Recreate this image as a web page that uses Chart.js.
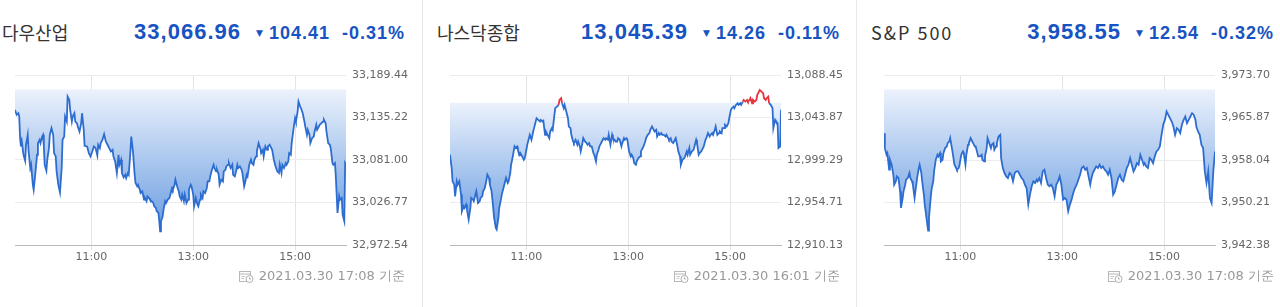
<!DOCTYPE html>
<html><head><meta charset="utf-8">
<script src="https://cdn.jsdelivr.net/npm/chart.js@4.4.1/dist/chart.umd.min.js"></script>
<style>
html,body{margin:0;padding:0;background:#fff;}
body{width:1280px;height:307px;overflow:hidden;position:relative;}
.panel{position:absolute;top:0;width:434px;height:307px;}
.panel::before{content:"";position:absolute;left:0;top:0;bottom:0;width:1px;background:#e8e8e8;}
.title{position:absolute;left:15px;top:22px;font:18px/20px "Noto Sans CJK KR",sans-serif;color:#333;white-space:nowrap;}
.quote{position:absolute;right:16px;top:21px;display:flex;align-items:baseline;line-height:22px;color:#1753c2;font-family:"Liberation Sans",Arial,sans-serif;font-weight:bold;white-space:nowrap;}
.price{font-size:22px;letter-spacing:1px;margin-right:15px;}
.arr{font:9px "DejaVu Sans",sans-serif;position:relative;top:-3px;margin-right:6px;}
.chg{font-size:18px;letter-spacing:1px;margin-right:12px;}
.pct{font-size:18px;letter-spacing:1px;}
canvas{position:absolute;left:28px;top:60px;}
.stamp{position:absolute;right:16px;top:268px;display:flex;align-items:center;font:13px/16px "DejaVu Sans",sans-serif;color:#999;white-space:nowrap;}
.stamp svg{margin-right:5px;}
</style></head>
<body>
<script>
// ---------- data ----------
const indexNames = ['다우산업', '나스닥종합', 'S&P 500'];
const lastPrices = ['33,066.96', '13,045.39', '3,958.55'];
const changes = ['104.41', '14.26', '12.54'];
const changePercents = ['-0.31%', '-0.11%', '-0.32%'];
const prevCloses = [33171.37, 13059.65, 3971.09];
const stampTexts = ['2021.03.30 17:08 기준', '2021.03.30 16:01 기준', '2021.03.30 17:08 기준'];

// x axis: minutes after 09:30 open
const xTickMinutes = [90, 210, 330];
const xTickLabels = ['11:00', '13:00', '15:00'];

const dowTickLabels = ['32,972.54', '33,026.77', '33,081.00', '33,135.22', '33,189.44'];
const nasdaqTickLabels = ['12,910.13', '12,954.71', '12,999.29', '13,043.87', '13,088.45'];
const spTickLabels = ['3,942.38', '3,950.21', '3,958.04', '3,965.87', '3,973.70'];

const dowMinutes = [
0,2,4,5,6,7,8,10,12,13,
15,16,18,19,21,22,24,26,27,29,
30,32,33,34,35,37,38,40,41,43,
45,46,48,49,51,53,55,56,58,59,
61,62,64,65,67,68,70,71,73,74,
76,78,79,81,82,85,87,89,91,93,
95,97,98,100,101,103,105,107,109,111,
113,115,116,118,120,122,123,125,126,128,
130,131,133,134,136,137,139,141,142,144,
145,147,148,150,152,153,155,156,158,159,
161,163,164,166,167,169,170,171,172,174,
175,177,178,180,182,183,185,186,188,189,
191,193,194,196,197,199,200,202,204,205,
207,208,210,211,213,215,216,218,219,221,
222,224,226,227,229,230,232,234,235,237,
238,240,241,243,245,246,248,249,251,252,
254,256,257,259,260,262,263,265,267,268,
270,271,273,274,276,278,279,281,282,284,
285,287,289,290,292,293,295,297,298,300,
301,303,305,307,309,311,312,314,315,317,
319,320,322,323,325,326,328,330,331,333,
334,336,337,339,341,342,344,345,347,348,
350,352,353,355,356,358,359,361,363,364,
366,367,369,371,372,374,375,377,378,380,
382,383,385,386,388,389,390];
const dowValues = [
33144.9,33138.5,33140.7,33136.4,33108.9,33098.3,33104.6,33087.7,33080.0,33100.4,
33113.1,33091.9,33070.7,33074.9,33049.5,33043.1,33064.3,33087.7,33102.5,33106.7,
33102.5,33111.0,33113.1,33098.3,33074.9,33067.3,33081.3,33096.1,33113.1,33121.6,
33113.1,33089.8,33085.5,33066.5,33049.5,33039.7,33070.7,33106.7,33111.0,33136.4,
33130.1,33161.9,33157.6,33144.9,33130.1,33136.4,33140.7,33130.1,33127.9,33123.7,
33117.3,33127.9,33140.7,33119.5,33099.1,33098.3,33089.8,33085.5,33091.9,33098.3,
33096.1,33086.8,33100.4,33096.1,33102.5,33106.7,33113.9,33104.6,33100.4,33096.1,
33091.9,33094.0,33085.5,33079.2,33064.3,33087.7,33074.9,33081.3,33064.3,33058.8,
33062.2,33058.0,33064.3,33062.2,33091.9,33111.0,33091.9,33062.2,33051.6,33047.4,
33049.5,33043.1,33038.9,33041.0,33030.4,33032.5,33028.3,33034.7,33032.5,33030.4,
33028.3,33026.2,33021.9,33019.8,33015.6,33013.5,33002.9,32990.1,33002.9,33009.2,
33017.7,33028.3,33026.2,33030.4,33032.5,33036.8,33045.3,33043.1,33049.5,33055.9,
33047.4,33041.0,33034.7,33030.4,33036.8,33028.3,33036.8,33026.2,33030.4,33043.1,
33049.5,33047.4,33036.8,33021.9,33032.5,33024.1,33021.9,33030.4,33036.8,33032.5,
33041.0,33038.9,33045.3,33053.7,33053.7,33060.1,33068.6,33074.9,33070.7,33066.5,
33068.6,33062.2,33049.5,33055.9,33053.7,33066.5,33068.6,33072.8,33074.9,33077.1,
33070.7,33074.9,33062.2,33060.1,33064.3,33074.9,33070.7,33072.8,33068.6,33064.3,
33047.4,33051.6,33062.2,33060.1,33074.9,33081.3,33077.1,33074.9,33081.3,33085.5,
33091.9,33102.5,33096.1,33089.8,33094.0,33085.5,33098.3,33094.0,33098.3,33100.4,
33098.3,33094.0,33081.3,33072.8,33066.5,33064.3,33074.9,33064.3,33074.9,33070.7,
33077.1,33074.9,33079.2,33089.8,33087.7,33102.5,33119.5,33134.3,33130.1,33142.8,
33155.5,33149.1,33147.0,33140.7,33130.1,33123.7,33113.1,33119.5,33113.1,33102.5,
33108.9,33111.0,33117.3,33125.8,33119.5,33123.7,33125.8,33127.9,33130.1,33132.2,
33127.9,33117.3,33102.5,33100.4,33096.1,33077.1,33074.9,33077.1,33060.1,33013.5,
33034.7,33030.4,33032.5,33011.4,33002.9,33077.1,33074.9];

const nasdaqMinutes = [
0,2,3,5,6,8,9,11,13,14,
16,17,19,20,22,24,25,27,28,30,
31,33,35,36,38,39,41,43,44,46,
47,49,50,52,54,55,57,58,60,61,
63,65,66,68,69,71,72,74,76,77,
79,80,82,83,85,87,88,90,91,93,
94,96,98,99,101,102,104,106,107,109,
110,112,113,115,117,118,120,121,123,124,
126,128,129,131,132,134,135,137,139,140,
142,143,145,146,148,150,151,153,154,156,
157,159,161,162,164,165,167,169,170,172,
173,175,176,178,180,181,183,184,186,187,
189,191,192,194,195,197,198,200,202,203,
205,206,208,209,211,213,214,216,217,219,
220,222,224,225,227,228,230,231,233,235,
236,238,239,241,243,244,246,247,249,250,
252,254,255,257,258,260,261,263,265,266,
268,269,271,272,274,276,277,279,280,282,
283,285,287,288,290,291,293,294,296,298,
299,301,302,304,306,307,309,310,312,313,
315,317,318,320,321,323,324,326,328,329,
331,332,334,335,337,339,340,342,343,345,
346,348,350,351,353,354,356,357,359,361,
362,364,365,367,369,370,372,373,375,376,
378,380,381,383,384,386,387,389,390];
const nasdaqValues = [
13004.8,12990.8,12976.9,12973.4,12961.2,12976.9,12973.4,12976.9,12963.0,12945.5,
12950.8,12949.0,12952.5,12947.3,12936.8,12949.0,12959.5,12957.7,12956.0,12963.0,
12966.4,12954.2,12956.0,12959.5,12961.2,12966.4,12969.9,12978.6,12983.9,12980.4,
12973.4,12966.4,12957.7,12938.6,12928.1,12926.4,12938.6,12949.0,12957.7,12963.0,
12969.9,12976.9,12980.4,12975.2,12976.9,12985.6,12994.3,13003.1,13013.5,13011.8,
13013.5,13010.0,13004.8,13006.5,13003.1,12999.6,13001.3,13010.0,13015.3,13022.2,
13025.7,13020.5,13029.2,13032.7,13039.7,13043.1,13041.4,13039.7,13041.4,13039.7,
13040.4,13025.7,13029.2,13025.7,13022.2,13029.2,13032.7,13030.9,13046.6,13053.6,
13055.3,13057.1,13062.3,13064.1,13058.8,13053.6,13057.1,13050.1,13043.1,13034.4,
13032.7,13025.7,13018.7,13017.0,13020.5,13015.3,13018.7,13013.5,13008.3,13017.0,
13022.2,13018.7,13017.0,13015.3,13017.0,13013.5,13013.5,13006.5,13004.8,12997.8,
13004.8,13010.0,13013.5,13017.0,13020.5,13022.2,13020.5,13022.2,13020.5,13025.7,
13015.3,13025.7,13022.2,13020.5,13018.7,13018.7,13022.2,13020.5,13013.5,13017.0,
13022.2,13020.5,13022.2,13020.5,13008.3,13003.1,13004.8,13001.3,12996.1,12994.3,
12997.8,13001.3,13003.1,13008.3,13011.8,13013.5,13018.7,13022.2,13025.7,13027.5,
13030.9,13034.4,13032.7,13029.2,13030.9,13024.0,13027.5,13025.7,13027.5,13025.7,
13025.7,13024.0,13025.7,13022.2,13020.5,13022.2,13018.7,13017.0,13020.5,13022.2,
13013.5,13008.3,13003.1,12994.3,12999.6,13001.3,13003.1,13008.3,13004.8,13011.8,
13004.8,13008.3,13010.0,13013.5,13020.5,13017.0,13004.8,13006.5,13008.3,13011.8,
13013.5,13020.5,13022.2,13027.5,13024.0,13025.7,13027.5,13025.7,13030.9,13034.4,
13025.7,13027.5,13029.2,13027.5,13032.7,13032.7,13036.2,13034.4,13037.9,13043.1,
13051.9,13053.6,13055.3,13053.6,13057.1,13058.8,13057.1,13058.8,13057.1,13060.6,
13062.3,13060.6,13062.3,13060.6,13062.3,13064.1,13058.8,13062.3,13060.6,13062.3,
13067.5,13071.0,13072.8,13071.0,13069.3,13064.1,13062.3,13064.1,13065.8,13058.8,
13057.1,13053.6,13032.7,13041.4,13039.7,13037.9,13011.8,13013.5,13051.9];

const spMinutes = [
0,1,3,4,6,7,9,11,12,14,
15,17,19,20,22,23,25,26,28,30,
31,33,34,36,37,39,41,42,44,45,
47,48,50,52,53,55,56,58,59,61,
63,64,66,67,69,70,72,74,75,77,
78,80,81,83,85,86,88,89,91,93,
94,96,97,99,100,102,104,105,107,108,
110,111,113,115,116,118,119,121,122,124,
126,127,129,130,132,133,135,137,
138,140,142,144,146,148,150,152,154,156,
158,160,162,164,166,168,170,172,174,176,
178,180,181,183,185,187,189,191,193,195,
197,199,201,203,205,207,209,211,213,215,
217,219,221,223,225,227,229,231,233,235,
237,239,241,243,244,246,248,250,252,254,
256,258,260,262,264,266,268,270,272,274,
276,278,280,282,284,286,288,290,292,294,
296,298,300,302,304,306,307,309,311,313,
315,317,319,321,323,325,327,329,331,333,
335,337,339,341,343,345,347,349,351,353,
355,357,359,361,363,365,367,368,370,372,
374,376,378,380,382,384,386,388,390];
const spValues = [
3962.99,3960.23,3959.00,3959.31,3956.25,3958.09,3957.17,3955.33,3953.49,3954.11,
3955.02,3954.72,3952.27,3949.21,3951.04,3952.27,3953.49,3954.41,3954.72,3955.64,
3954.72,3954.11,3953.49,3951.04,3952.27,3954.72,3956.56,3957.17,3955.64,3954.11,
3951.66,3949.82,3947.37,3945.04,3947.37,3951.04,3952.58,3954.11,3955.94,3958.09,
3959.00,3958.70,3959.31,3957.78,3958.09,3959.31,3960.23,3960.54,3961.15,3961.45,
3962.07,3960.23,3959.31,3957.17,3956.56,3956.25,3956.56,3957.17,3959.00,3959.62,
3959.31,3957.17,3959.00,3960.84,3961.15,3962.07,3961.45,3961.15,3960.54,3960.54,
3959.31,3958.70,3958.70,3959.00,3958.09,3957.78,3958.70,3960.23,3962.07,3961.15,
3960.23,3960.84,3961.15,3959.92,3960.54,3961.15,3962.37,3962.68,
3958.39,3956.56,3955.64,3955.02,3954.72,3955.64,3955.33,3954.11,3955.64,3955.94,
3955.94,3955.33,3954.72,3954.41,3953.49,3952.88,3949.82,3951.66,3953.19,3954.11,
3953.80,3954.41,3954.11,3954.72,3953.80,3955.94,3956.25,3954.72,3953.49,3953.19,
3953.49,3952.88,3951.35,3953.49,3954.11,3955.02,3953.49,3950.74,3951.04,3950.74,
3948.60,3949.82,3950.74,3951.96,3952.88,3953.49,3954.41,3955.33,3956.56,3956.86,
3956.25,3956.56,3955.02,3953.49,3954.41,3955.64,3956.25,3956.86,3956.56,3957.17,
3956.56,3956.86,3956.25,3955.94,3955.33,3956.25,3954.72,3951.66,3952.27,3953.49,
3954.72,3955.33,3954.41,3954.11,3955.33,3956.56,3957.17,3958.39,3957.17,3955.94,
3956.56,3957.47,3957.17,3959.00,3958.09,3957.17,3957.47,3956.86,3956.56,3958.39,
3958.09,3957.47,3958.70,3959.62,3959.92,3960.54,3962.68,3964.52,3965.43,3966.97,
3966.35,3965.74,3965.13,3964.21,3962.68,3963.90,3963.60,3962.99,3964.52,3965.43,
3966.05,3964.82,3965.43,3966.05,3966.66,3966.35,3965.43,3964.21,3963.29,3962.68,
3960.84,3960.23,3955.94,3953.80,3955.94,3951.04,3950.13,3955.94,3959.62];

const seriesMinutes = [dowMinutes, nasdaqMinutes, spMinutes];
const seriesValues = [dowValues, nasdaqValues, spValues];
const seriesTickLabels = [dowTickLabels, nasdaqTickLabels, spTickLabels];

// ---------- build ----------
const panelLefts = [-13, 422, 856];
const LINE_BLUE = '#2e6dd0';
const LINE_RED = '#e8333c';

const iconSvg = '<svg width="15" height="13" viewBox="0 0 15 13"><rect x="0.5" y="1.5" width="11" height="10" fill="none" stroke="#b8b8b8"/><line x1="0.5" y1="4" x2="11.5" y2="4" stroke="#b8b8b8"/><line x1="2.5" y1="6.5" x2="6" y2="6.5" stroke="#c8c8c8"/><line x1="2.5" y1="8.5" x2="5" y2="8.5" stroke="#c8c8c8"/><circle cx="10.5" cy="9" r="3.5" fill="#fff" stroke="#b0b0b0"/><path d="M10.5 7.2V9h1.4" fill="none" stroke="#b0b0b0"/></svg>';

Chart.defaults.font.family = '"DejaVu Sans", sans-serif';

for (let p = 0; p < 3; p++) {
  const panel = document.createElement('div');
  panel.className = 'panel';
  panel.style.left = panelLefts[p] + 'px';
  const ascii = /^[\x00-\x7F]+$/.test(indexNames[p]);
  panel.innerHTML =
    '<div class="title"' + (ascii ? ' style="letter-spacing:2px"' : '') + '></div>' +
    '<div class="quote"><span class="price"></span><span class="arr">▼</span><span class="chg"></span><span class="pct"></span></div>' +
    '<canvas width="400" height="210"></canvas>' +
    '<div class="stamp">' + iconSvg + '<span class="st"></span></div>';
  panel.querySelector('.title').textContent = indexNames[p];
  panel.querySelector('.price').textContent = lastPrices[p];
  panel.querySelector('.chg').textContent = changes[p];
  panel.querySelector('.pct').textContent = changePercents[p];
  panel.querySelector('.st').textContent = stampTexts[p];
  document.body.appendChild(panel);

  const tickLabels = seriesTickLabels[p];
  const tickVals = tickLabels.map(s => parseFloat(s.replace(/,/g, '')));
  const prev = prevCloses[p];
  const mins = seriesMinutes[p];
  const vals = seriesValues[p];
  const pts = mins.map((m, i) => ({ x: m, y: vals[i] }));

  new Chart(panel.querySelector('canvas'), {
    type: 'line',
    data: { datasets: [{
      data: pts,
      borderColor: LINE_BLUE,
      borderWidth: 1.8,
      pointRadius: 0,
      tension: 0,
      fill: { target: { value: prev }, above: 'rgba(0,0,0,0)' },
      backgroundColor: (ctx) => {
        const ch = ctx.chart;
        const ca = ch.chartArea;
        if (!ca) return 'rgba(120,165,230,0.5)';
        const y0 = ch.scales.y.getPixelForValue(prev);
        const g = ch.ctx.createLinearGradient(0, y0, 0, ca.bottom);
        g.addColorStop(0, '#ecf2fc');
        g.addColorStop(1, '#5c94de');
        return g;
      },
      segment: {
        borderColor: (c) => ((c.p0.parsed.y + c.p1.parsed.y) / 2 > prev ? LINE_RED : undefined)
      }
    }] },
    options: {
      responsive: false,
      animation: false,
      layout: { padding: { top: 15, left: 0, right: 0, bottom: 0 } },
      plugins: { legend: { display: false }, tooltip: { enabled: false } },
      scales: {
        x: {
          type: 'linear', min: 0, max: 390,
          afterBuildTicks: (s) => { s.ticks = xTickMinutes.map(v => ({ value: v })); },
          afterFit: (s) => { s.height = 25; },
          grid: { color: '#e3e3e3', tickLength: 5, drawTicks: true },
          border: { color: '#b9b9b9' },
          ticks: { autoSkip: false, maxRotation: 0, padding: 1, color: '#666',
                   font: { size: 11 }, callback: (v, i) => xTickLabels[i] }
        },
        y: {
          position: 'right', min: tickVals[0], max: tickVals[tickVals.length - 1],
          afterBuildTicks: (s) => { s.ticks = tickVals.map(v => ({ value: v })); },
          afterFit: (s) => { s.width = 69; },
          grid: { color: '#ececec', drawTicks: false },
          border: { display: false },
          ticks: { autoSkip: false, padding: 6, color: '#666',
                   font: { size: 11 }, callback: (v, i) => tickLabels[i] }
        }
      }
    }
  });
}
</script>
</body></html>
